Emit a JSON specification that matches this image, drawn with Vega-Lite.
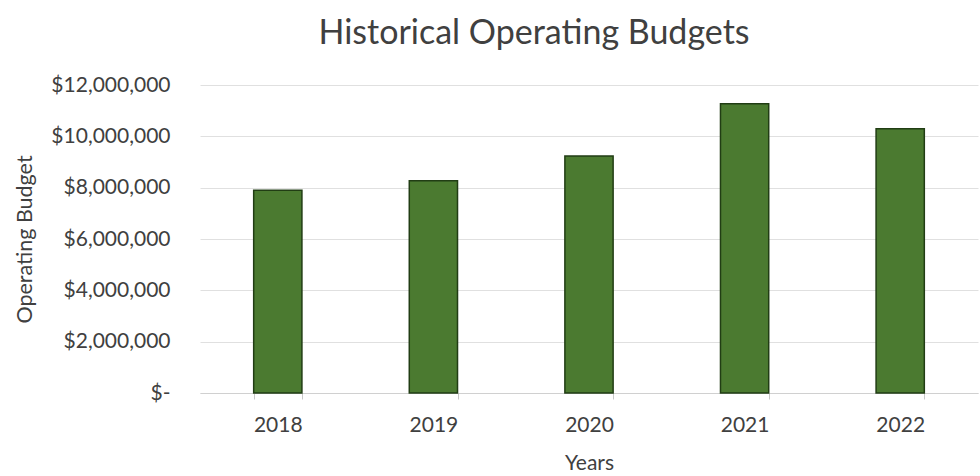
{
  "$schema": "https://vega.github.io/schema/vega-lite/v6.json",
  "width": 778,
  "height": 308,
  "autosize": {"type": "none"},
  "padding": {"left": 200, "top": 85, "right": 2, "bottom": 83},
  "background": "white",
  "title": {
    "text": "Historical Operating Budgets",
    "font": "Lato",
    "fontSize": 34,
    "fontWeight": "normal",
    "color": "#404040",
    "anchor": "middle",
    "frame": "group",
    "dx": -55,
    "baseline": "alphabetic",
    "offset": -4
  },
  "data": {
    "values": [
      {"year": "2018", "budget": 7900000},
      {"year": "2019", "budget": 8270000},
      {"year": "2020", "budget": 9230000},
      {"year": "2021", "budget": 11270000},
      {"year": "2022", "budget": 10300000}
    ]
  },
  "mark": {"type": "bar", "fill": "#4b7a30", "stroke": "#213d14", "strokeWidth": 1.5},
  "encoding": {
    "x": {
      "field": "year",
      "type": "ordinal",
      "scale": {"paddingInner": 0.69, "paddingOuter": 0.345},
      "axis": {
        "title": "Years",
        "titleFont": "Lato",
        "titleFontSize": 21,
        "titleFontWeight": "normal",
        "titleColor": "#404040",
        "titlePadding": 17,
        "labelFont": "Lato",
        "labelFontSize": 21,
        "labelColor": "#404040",
        "labelAngle": 0,
        "labelPadding": 15,
        "tickBand": "extent",
        "tickSize": 6,
        "tickColor": "#c8c8c8",
        "domainColor": "#d0d0d0",
        "grid": false
      }
    },
    "y": {
      "field": "budget",
      "type": "quantitative",
      "scale": {"domain": [0, 12000000], "nice": false},
      "axis": {
        "values": [0, 2000000, 4000000, 6000000, 8000000, 10000000, 12000000],
        "labelExpr": "datum.value == 0 ? '$-' : '$' + format(datum.value, ',.0f')",
        "title": "Operating Budget",
        "titleFont": "Lato",
        "titleFontSize": 21.5,
        "titleFontWeight": "normal",
        "titleColor": "#404040",
        "titleAngle": 270,
        "titleX": -175,
        "titleY": 154,
        "titleAlign": "center",
        "titleBaseline": "middle",
        "labelFont": "Lato",
        "labelFontSize": 21,
        "labelColor": "#404040",
        "labelPadding": 30,
        "ticks": false,
        "tickSize": 0,
        "domain": false,
        "grid": true,
        "gridColor": "#e0e0e0",
        "gridWidth": 1
      }
    }
  },
  "config": {"view": {"stroke": null}}
}
